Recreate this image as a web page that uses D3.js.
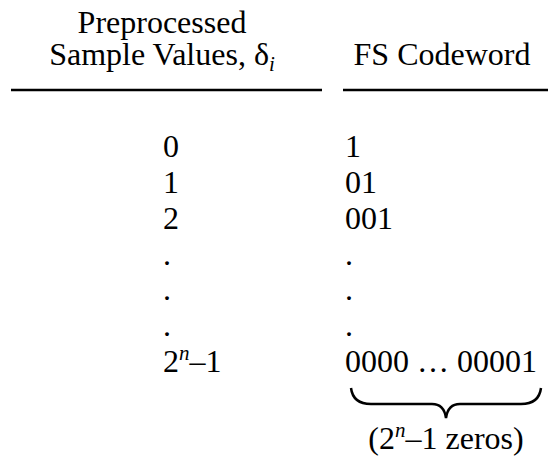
<!DOCTYPE html>
<html lang="en">
<head>
  <meta charset="UTF-8">
  <title>FS Codeword table</title>
  <script src="https://d3js.org/d3.v7.min.js"></script>
  <style>
    body { margin: 0; background: #fff; }
    text { font-family: "Liberation Serif", "Times New Roman", serif; fill: #000; }
  </style>
</head>
<body>
  <svg id="chart"></svg>
  <script>
  // table content ("^" marks a superscript char, "_" a subscript char)
  var headerLeft = ["Preprocessed", "Sample Values, δ_i"];
  var headerRight = ["FS Codeword"];
  var sampleValues = ["0", "1", "2", ".", ".", ".", "2^n–1"];
  var codewords = ["1", "01", "001", ".", ".", ".", "0000 … 00001"];
  var braceNote = "(2^n–1 zeros)";

  var width = 548, height = 456;
  var svg = d3.select("#chart").attr("width", width).attr("height", height);

  var rowY = d3.scalePoint()
      .domain(d3.range(sampleValues.length))
      .range([157, 372]);

  // split "2^n–1" into plain / sup / sub pieces
  function pieces(s) {
    var out = [];
    for (var i = 0; i < s.length; i++) {
      var c = s[i];
      if ((c == "^" || c == "_") && i + 1 < s.length) {
        out.push({ t: s[i + 1], kind: c == "^" ? "sup" : "sub" });
        i++;
      } else {
        if (out.length && out[out.length - 1].kind == "plain") out[out.length - 1].t += c;
        else out.push({ t: c, kind: "plain" });
      }
    }
    return out;
  }

  function rich(sel, str) {
    var shift = 0;
    pieces(str).forEach(function(p) {
      var ts = sel.append("tspan").text(p.t);
      var target = p.kind == "sup" ? -12 : p.kind == "sub" ? 6 : 0;
      ts.attr("dy", target - shift);
      shift = target;
      if (p.kind != "plain") ts.attr("font-size", 21).attr("font-style", "italic");
    });
    return sel;
  }

  var fs = 32;

  // headers
  svg.selectAll("text.hl")
    .data(headerLeft)
    .enter().append("text")
      .attr("class", "hl")
      .attr("x", 162)
      .attr("y", function(d, i) { return 33 + i * 32; })
      .attr("text-anchor", "middle")
      .attr("font-size", fs)
      .each(function(d) { rich(d3.select(this), d); });

  svg.selectAll("text.hr")
    .data(headerRight)
    .enter().append("text")
      .attr("class", "hr")
      .attr("x", 442)
      .attr("y", 65)
      .attr("text-anchor", "middle")
      .attr("font-size", fs)
      .text(function(d) { return d; });

  // rules under headers
  var rules = [[11, 322], [343, 548]];
  svg.selectAll("line.rule")
    .data(rules)
    .enter().append("line")
      .attr("x1", function(d) { return d[0]; })
      .attr("x2", function(d) { return d[1]; })
      .attr("y1", 90).attr("y2", 90)
      .attr("stroke", "#000")
      .attr("stroke-width", 2.5);

  // columns
  svg.selectAll("text.sv")
    .data(sampleValues)
    .enter().append("text")
      .attr("class", "sv")
      .attr("x", 163)
      .attr("y", function(d, i) { return rowY(i); })
      .attr("font-size", fs)
      .each(function(d) { rich(d3.select(this), d); });

  var cw = svg.selectAll("text.cw")
    .data(codewords)
    .enter().append("text")
      .attr("class", "cw")
      .attr("x", 345)
      .attr("y", function(d, i) { return rowY(i); })
      .attr("font-size", fs)
      .text(function(d) { return d; });

  // brace under the last codeword
  var lastBox = cw.filter(function(d, i) { return i == codewords.length - 1; }).node().getBBox();
  var bx0 = lastBox.x + 6, bx1 = lastBox.x + lastBox.width + 4;
  var bmid = (bx0 + bx1) / 2;
  var braceTop = 388, braceFlat = 404, braceTip = 418;
  var p = d3.path();
  p.moveTo(bx0, braceTop);
  p.quadraticCurveTo(bx0 + 2, braceFlat, bx0 + 20, braceFlat);
  p.lineTo(bmid - 14, braceFlat);
  p.quadraticCurveTo(bmid - 2, braceFlat, bmid, braceTip);
  p.quadraticCurveTo(bmid + 2, braceFlat, bmid + 14, braceFlat);
  p.lineTo(bx1 - 20, braceFlat);
  p.quadraticCurveTo(bx1 - 2, braceFlat, bx1, braceTop);
  svg.append("path")
    .attr("d", p.toString())
    .attr("fill", "none")
    .attr("stroke", "#000")
    .attr("stroke-width", 2.5);

  svg.append("text")
    .attr("x", bmid)
    .attr("y", 449)
    .attr("text-anchor", "middle")
    .attr("font-size", fs)
    .each(function() { rich(d3.select(this), braceNote); });
  </script>
</body>
</html>
